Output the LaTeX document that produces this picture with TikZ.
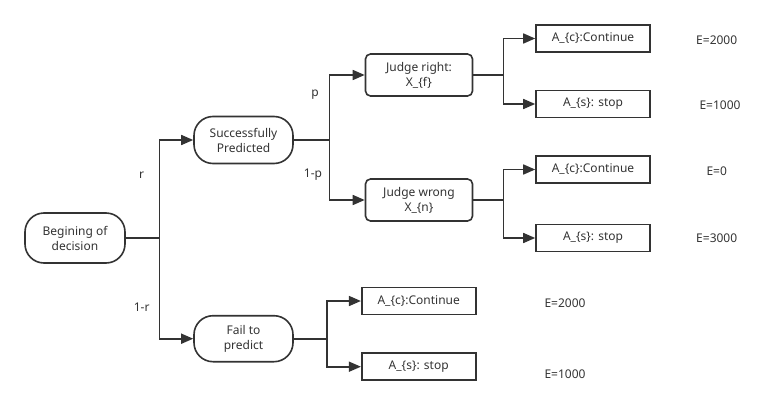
\documentclass[tikz,border=0pt]{standalone}
\usepackage{fontspec}
\setmainfont{Noto Sans}
\usetikzlibrary{arrows.meta}
\definecolor{ink}{HTML}{333333}
\begin{document}
\begin{tikzpicture}[x=1pt,y=-1pt,
  every node/.style={font=\fontsize{12}{15}\selectfont,text=ink},
  pill/.style={draw=ink,line width=1.6pt,rounded corners=19pt,minimum width=99pt,minimum height=47pt,align=center,inner sep=0pt},
  judge/.style={draw=ink,line width=1.6pt,rounded corners=5pt,minimum width=107pt,minimum height=42pt,align=center,inner sep=0pt},
  act/.style={draw=ink,line width=1.6pt,minimum width=114pt,minimum height=27pt,inner sep=0pt},
  lbl/.style={inner sep=1pt},
  conn/.style={draw=ink,line width=1.6pt},
  arr/.style={conn,-{Triangle[length=12pt,width=10pt]}}]
\useasboundingbox (0,0) rectangle (783,409);
% nodes
\node[pill,minimum width=100pt,minimum height=50pt] (begin) at (75,238) {Begining of\\decision};
\node[pill] (succ) at (243.5,140) {Successfully\\Predicted};
\node[pill,minimum height=46pt] (fail) at (243.5,338.7) {Fail to\\predict};
\node[judge] (jr) at (419,75) {Judge right:\\X\_\{f\}};
\node[judge] (jw) at (419,200) {Judge wrong\\X\_\{n\}};
\node[act] (a1) at (593,38.5) {A\_\{c\}:Continue};
\node[act] (a2) at (593,104) {A\_\{s\}: stop};
\node[act] (a3) at (593,169.5) {A\_\{c\}:Continue};
\node[act] (a4) at (593,238) {A\_\{s\}: stop};
\node[act] (a5) at (418.7,301) {A\_\{c\}:Continue};
\node[act] (a6) at (418.7,366.7) {A\_\{s\}: stop};
% labels
\node[lbl] (lr) at (141.7,175) {r};
\node[lbl] (l1r) at (141.7,307) {1-r};
\node[lbl] (lp) at (315,95) {p};
\node[lbl] (l1p) at (313,175) {1-p};
\node[lbl] (e1) at (716.7,40) {E=2000};
\node[lbl] (e2) at (720,105) {E=1000};
\node[lbl] (e3) at (716.7,171) {E=0};
\node[lbl] (e4) at (716.7,238) {E=3000};
\node[lbl] (e5) at (565,303.3) {E=2000};
\node[lbl] (e6) at (565,374) {E=1000};
% junctions
\coordinate (j0) at (159.3,238);
\coordinate (j1) at (329.3,140);
\coordinate (j2) at (503.3,75);
\coordinate (j3) at (503.3,200);
\coordinate (j4) at (326.7,338.7);
% connectors
\draw[conn] (begin.east) -- (j0);
\draw[arr] (j0) |- (succ.west);
\draw[arr] (j0) |- (fail.west);
\draw[conn] (succ.east) -- (j1);
\draw[arr] (j1) |- (jr.west);
\draw[arr] (j1) |- (jw.west);
\draw[conn] (jr.east) -- (j2);
\draw[arr] (j2) |- (a1.west);
\draw[arr] (j2) |- (a2.west);
\draw[conn] (jw.east) -- (j3);
\draw[arr] (j3) |- (a3.west);
\draw[arr] (j3) |- (a4.west);
\draw[conn] (fail.east) -- (j4);
\draw[arr] (j4) |- (a5.west);
\draw[arr] (j4) |- (a6.west);
\end{tikzpicture}
\end{document}
